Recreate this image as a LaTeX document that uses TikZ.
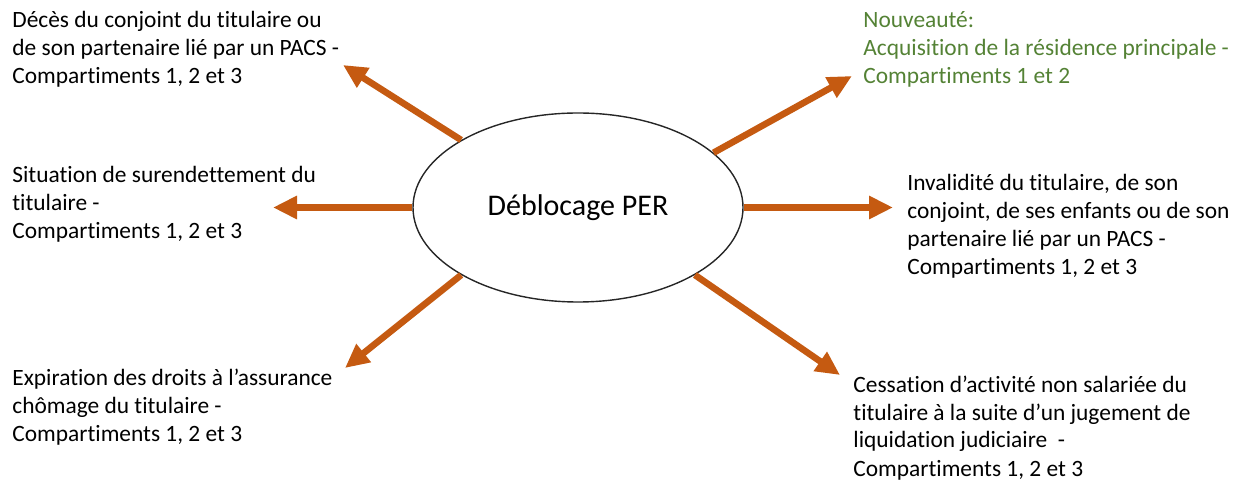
\documentclass[tikz,border=0pt]{standalone}
\usepackage{fontspec}
\setmainfont{Carlito}[Ligatures=NoCommon]
\usetikzlibrary{shapes.geometric,arrows.meta}
\definecolor{orangeper}{HTML}{C55A11}
\definecolor{vertper}{HTML}{548235}
\tikzset{
  lbl/.style={anchor=base west, inner sep=0pt, align=left, font=\fontsize{11.7}{14}\selectfont},
  fleche/.style={-{Triangle[length=12pt,width=11pt]}, line width=3.3pt, draw=orangeper},
  centre/.style={ellipse, draw=black!85, line width=0.7pt, inner sep=0pt,
    minimum width=165pt, minimum height=94.5pt, font=\fontsize{15}{18}\selectfont}
}
\begin{document}
\begin{tikzpicture}[x=0.5pt,y=-0.5pt]
\useasboundingbox (0,0) rectangle (1235,485);
% centre
\node[centre] (per) at (578,207.5) {Déblocage PER};
% textes (base = derniere ligne)
\node[lbl] (deces) at (12,83.5) {Décès du conjoint du titulaire ou\\de son partenaire lié par un PACS -\\Compartiments 1, 2 et 3};
\node[lbl] (suren) at (12,239) {Situation de surendettement du\\titulaire -\\Compartiments 1, 2 et 3};
\node[lbl] (chomage) at (12,442) {Expiration des droits à l’assurance\\chômage du titulaire -\\Compartiments 1, 2 et 3};
\node[lbl,text=vertper] (rp) at (863,84) {Nouveauté:\\Acquisition de la résidence principale -\\Compartiments 1 et 2};
\node[lbl] (inval) at (907,275) {Invalidité du titulaire, de son\\conjoint, de ses enfants ou de son\\partenaire lié par un PACS -\\Compartiments 1, 2 et 3};
\node[lbl] (cess) at (853,476) {Cessation d’activité non salariée du\\titulaire à la suite d’un jugement de\\liquidation judiciaire~~-\\Compartiments 1, 2 et 3};
% pointes
\coordinate (p-deces) at (343,65);
\coordinate (p-suren) at (273,207.5);
\coordinate (p-chomage) at (345,368);
\coordinate (p-rp) at (852,76);
\coordinate (p-inval) at (893,207.5);
\coordinate (p-cess) at (840,375);
% fleches
\draw[fleche] (per.150) -- (p-deces);
\draw[fleche] (per.west) -- (p-suren);
\draw[fleche] (per.210) -- (p-chomage);
\draw[fleche] (per.22) -- (p-rp);
\draw[fleche] (per.east) -- (p-inval);
\draw[fleche] (per.330) -- (p-cess);
\end{tikzpicture}
\end{document}
